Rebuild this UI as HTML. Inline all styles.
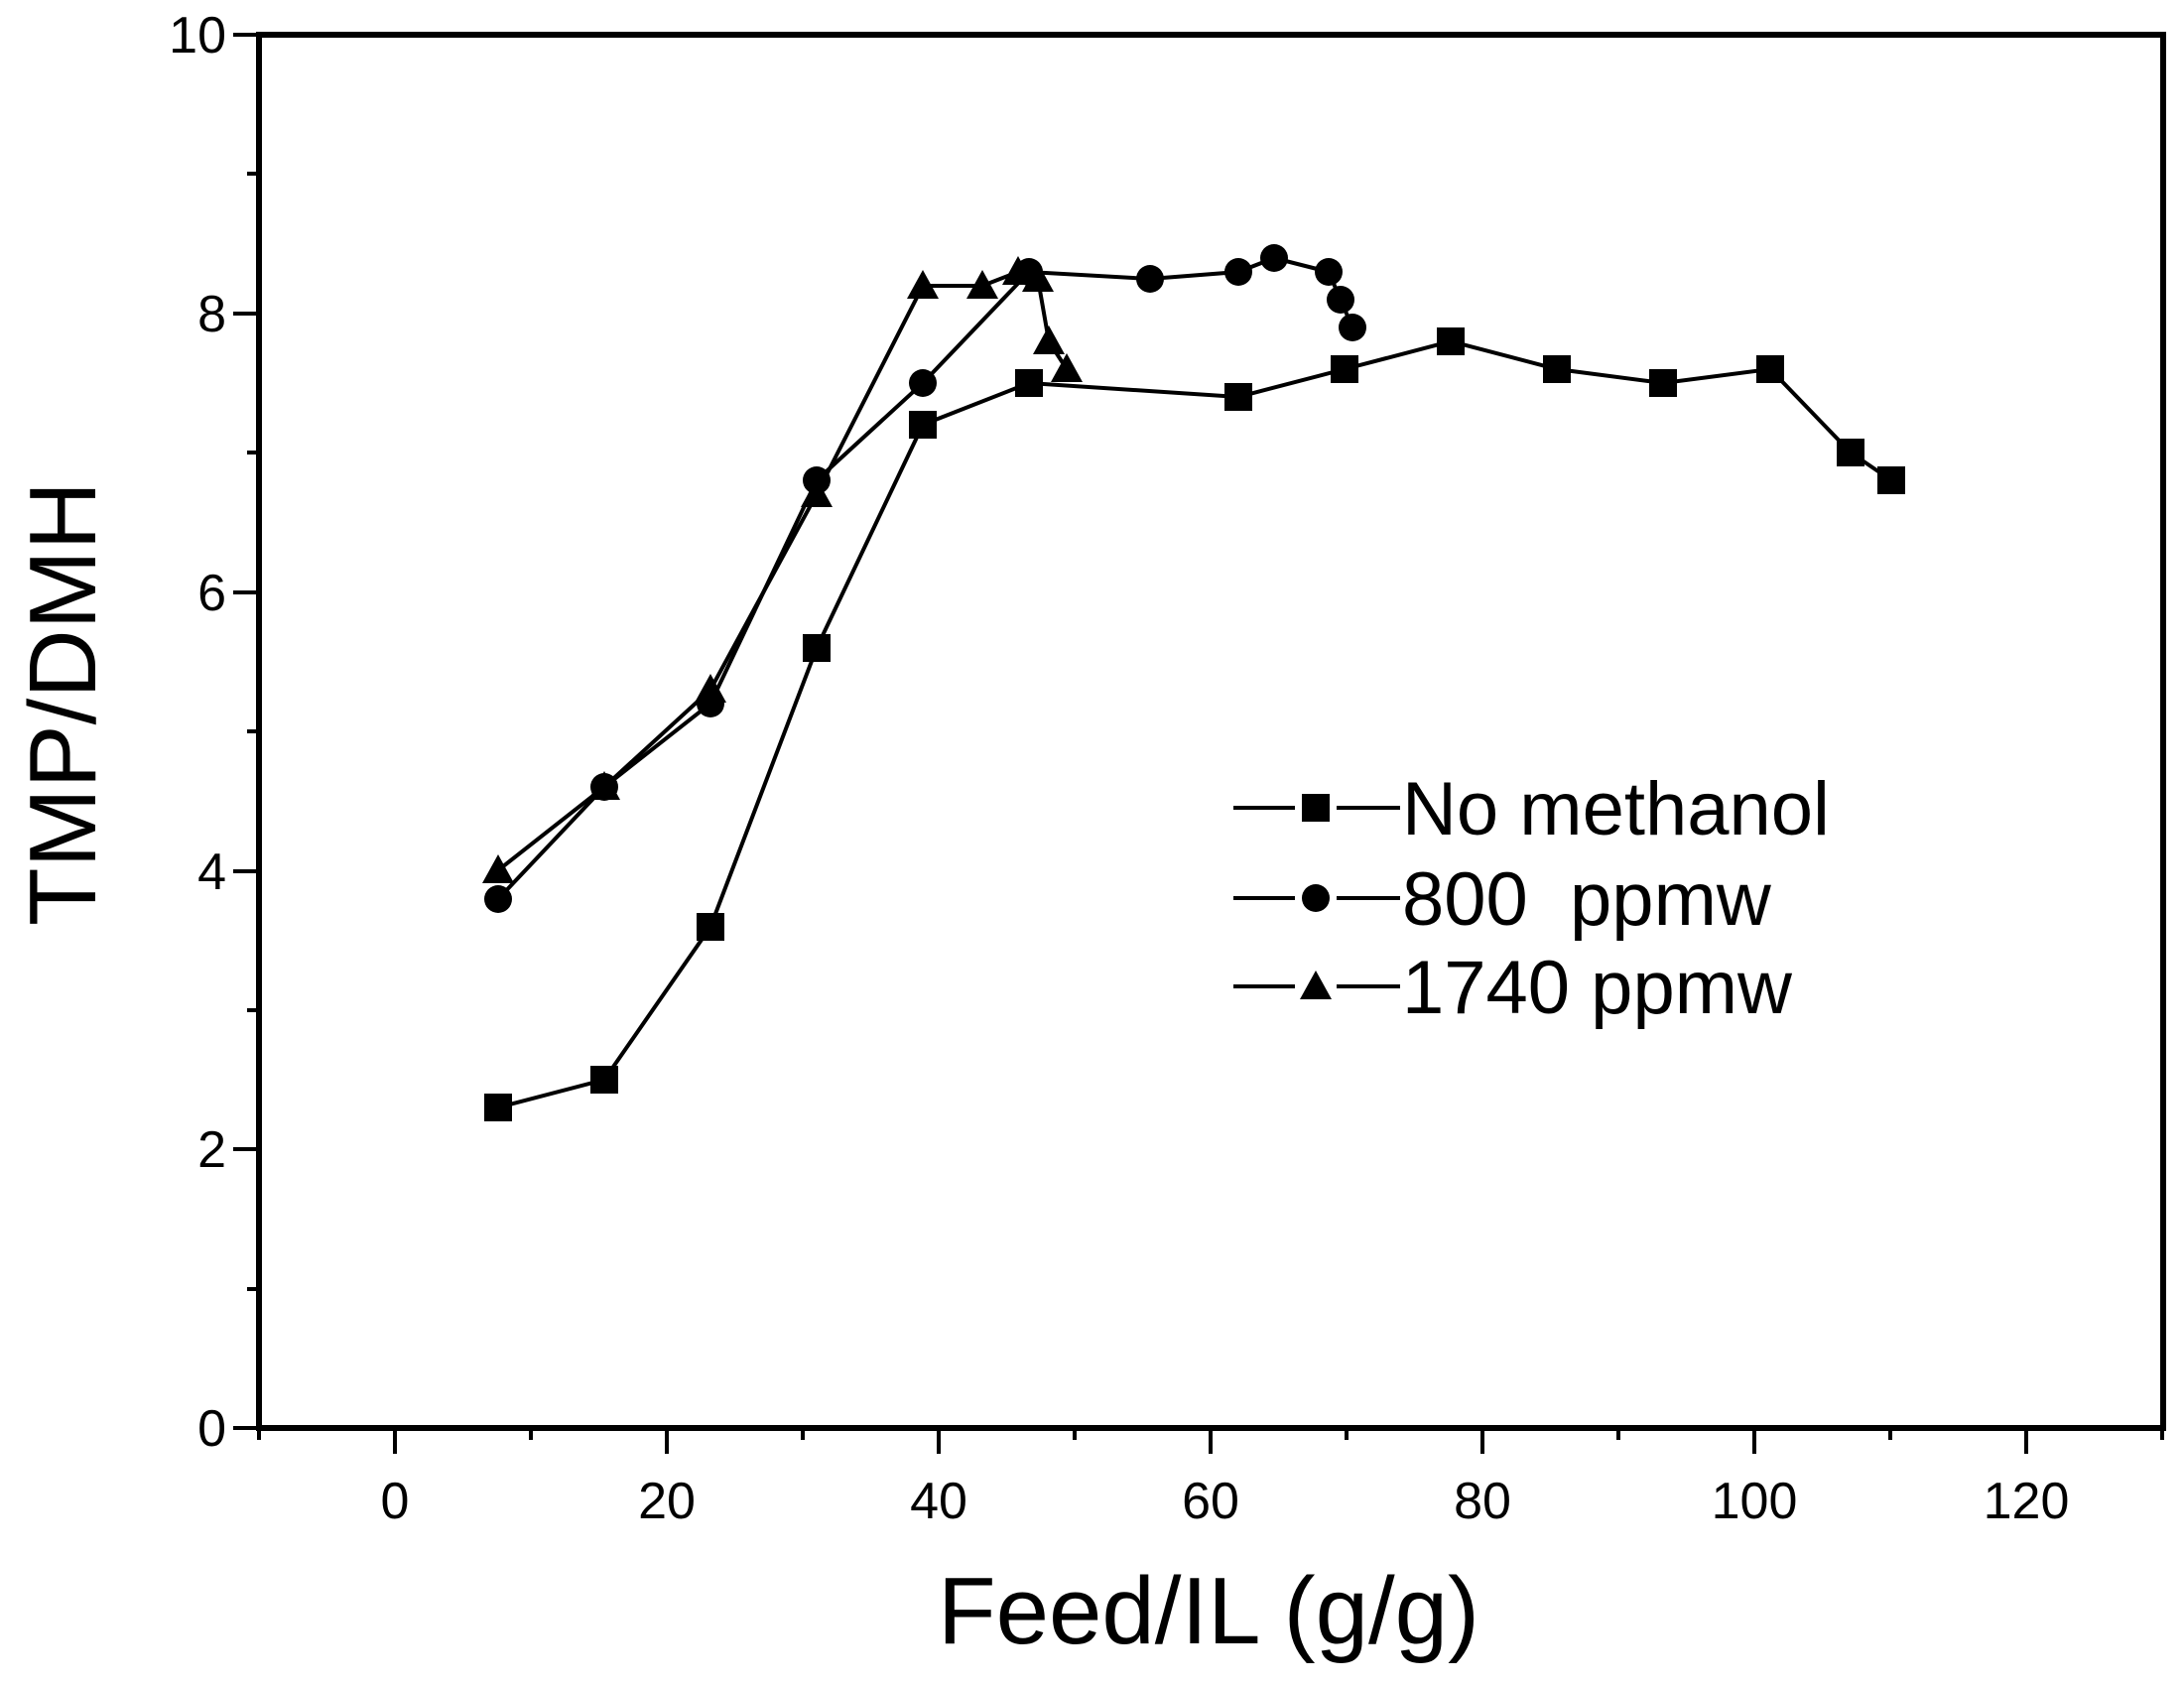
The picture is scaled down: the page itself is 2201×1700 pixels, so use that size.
<!DOCTYPE html>
<html><head><meta charset="utf-8"><style>
html,body{margin:0;padding:0;background:#fff;}
text{font-family:"Liberation Sans",Arial,sans-serif;fill:#000;}
</style></head><body>
<svg width="2201" height="1695" viewBox="0 0 2201 1695" xmlns="http://www.w3.org/2000/svg">
<defs>
<rect id="sq" x="-14" y="-14" width="28" height="28" fill="#000"/>
<circle id="ci" r="14" fill="#000"/>
<polygon id="tr" points="0,-16 16,13 -16,13" fill="#000"/>
</defs>
<rect x="261" y="35" width="1919" height="1404" fill="none" stroke="#000" stroke-width="6"/>
<g stroke="#000" stroke-width="4">
<line x1="261" y1="1439" x2="261" y2="1451"/>
<line x1="398" y1="1439" x2="398" y2="1465"/>
<line x1="535" y1="1439" x2="535" y2="1451"/>
<line x1="672" y1="1439" x2="672" y2="1465"/>
<line x1="809" y1="1439" x2="809" y2="1451"/>
<line x1="946" y1="1439" x2="946" y2="1465"/>
<line x1="1083" y1="1439" x2="1083" y2="1451"/>
<line x1="1220" y1="1439" x2="1220" y2="1465"/>
<line x1="1357" y1="1439" x2="1357" y2="1451"/>
<line x1="1494" y1="1439" x2="1494" y2="1465"/>
<line x1="1631" y1="1439" x2="1631" y2="1451"/>
<line x1="1768" y1="1439" x2="1768" y2="1465"/>
<line x1="1905" y1="1439" x2="1905" y2="1451"/>
<line x1="2042" y1="1439" x2="2042" y2="1465"/>
<line x1="2179" y1="1439" x2="2179" y2="1451"/>
<line x1="261" y1="1439" x2="235" y2="1439"/>
<line x1="261" y1="1299" x2="249" y2="1299"/>
<line x1="261" y1="1158" x2="235" y2="1158"/>
<line x1="261" y1="1018" x2="249" y2="1018"/>
<line x1="261" y1="878" x2="235" y2="878"/>
<line x1="261" y1="737" x2="249" y2="737"/>
<line x1="261" y1="597" x2="235" y2="597"/>
<line x1="261" y1="456" x2="249" y2="456"/>
<line x1="261" y1="316" x2="235" y2="316"/>
<line x1="261" y1="175" x2="249" y2="175"/>
<line x1="261" y1="35" x2="235" y2="35"/>
</g>
<g font-size="52" text-anchor="end">
<text x="228" y="1457">0</text>
<text x="228" y="1176">2</text>
<text x="228" y="896">4</text>
<text x="228" y="615">6</text>
<text x="228" y="334">8</text>
<text x="228" y="53">10</text>
</g>
<g font-size="52" text-anchor="middle">
<text x="398" y="1530">0</text>
<text x="672" y="1530">20</text>
<text x="946" y="1530">40</text>
<text x="1220" y="1530">60</text>
<text x="1494" y="1530">80</text>
<text x="1768" y="1530">100</text>
<text x="2042" y="1530">120</text>
</g>
<text x="1218" y="1656" font-size="96" text-anchor="middle">Feed/IL (g/g)</text>
<text transform="translate(96,709) rotate(-90)" font-size="96" text-anchor="middle">TMP/DMH</text>
<g fill="none" stroke="#000" stroke-width="4">
<polyline points="502,1116 609,1088 716,934 823,653 930,428 1037,386 1248,400 1355,372 1462,344 1569,372 1676,386 1784,372 1865,456 1906,484"/>
<polyline points="502,906 609,793 716,709 823,484 930,386 1037,274 1159,281 1248,274 1284,260 1339,274 1351,302 1363,330"/>
<polyline points="502,877 609,793 716,695 823,498 930,288 990,288 1026,274 1046,281 1057,344 1075,372"/>
</g>
<g>
<use href="#sq" x="502" y="1116"/><use href="#sq" x="609" y="1088"/><use href="#sq" x="716" y="934"/><use href="#sq" x="823" y="653"/><use href="#sq" x="930" y="428"/><use href="#sq" x="1037" y="386"/><use href="#sq" x="1248" y="400"/><use href="#sq" x="1355" y="372"/><use href="#sq" x="1462" y="344"/><use href="#sq" x="1569" y="372"/><use href="#sq" x="1676" y="386"/><use href="#sq" x="1784" y="372"/><use href="#sq" x="1865" y="456"/><use href="#sq" x="1906" y="484"/>
<use href="#ci" x="502" y="906"/><use href="#ci" x="609" y="793"/><use href="#ci" x="716" y="709"/><use href="#ci" x="823" y="484"/><use href="#ci" x="930" y="386"/><use href="#ci" x="1037" y="274"/><use href="#ci" x="1159" y="281"/><use href="#ci" x="1248" y="274"/><use href="#ci" x="1284" y="260"/><use href="#ci" x="1339" y="274"/><use href="#ci" x="1351" y="302"/><use href="#ci" x="1363" y="330"/>
<use href="#tr" x="502" y="877"/><use href="#tr" x="609" y="793"/><use href="#tr" x="716" y="695"/><use href="#tr" x="823" y="498"/><use href="#tr" x="930" y="288"/><use href="#tr" x="990" y="288"/><use href="#tr" x="1026" y="274"/><use href="#tr" x="1046" y="281"/><use href="#tr" x="1057" y="344"/><use href="#tr" x="1075" y="372"/>
</g>
<g stroke="#000" stroke-width="4">
<line x1="1243" y1="814" x2="1305" y2="814"/><line x1="1347" y1="814" x2="1411" y2="814"/>
<line x1="1243" y1="905" x2="1305" y2="905"/><line x1="1347" y1="905" x2="1411" y2="905"/>
<line x1="1243" y1="994" x2="1305" y2="994"/><line x1="1347" y1="994" x2="1411" y2="994"/>
</g>
<use href="#sq" x="1326" y="814"/>
<use href="#ci" x="1326" y="905"/>
<use href="#tr" x="1326" y="994"/>
<g font-size="76" style="white-space:pre">
<text x="1413" y="841">No methanol</text>
<text x="1413" y="932" xml:space="preserve">800  ppmw</text>
<text x="1413" y="1021">1740 ppmw</text>
</g>
</svg>
</body></html>
